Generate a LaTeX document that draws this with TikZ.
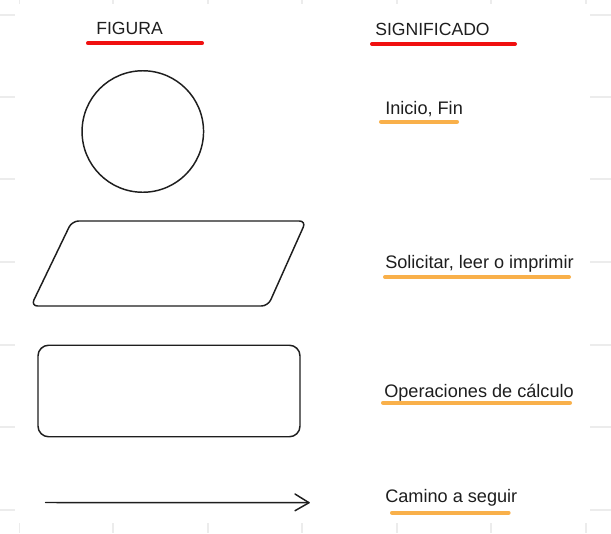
\documentclass[tikz,border=0pt]{standalone}
\usepackage{fontspec}
\setmainfont{Liberation Sans}
\definecolor{ink}{HTML}{1E1E1E}
\definecolor{gridc}{HTML}{ECECEC}
\definecolor{redline}{HTML}{F01010}
\definecolor{orangeline}{HTML}{F9B04A}
\tikzset{
  shapeline/.style={draw=ink, line width=1.1pt},
  tick/.style={draw=gridc, line width=0.9pt},
  head/.style={anchor=base west, inner sep=0pt, text=ink, font=\fontsize{13.2pt}{15pt}\selectfont},
  label/.style={anchor=base west, inner sep=0pt, text=ink, font=\fontsize{13.6pt}{16pt}\selectfont},
  redul/.style={draw=redline, line width=3pt, line cap=round},
  orangeul/.style={draw=orangeline, line width=3pt, line cap=round},
}
\begin{document}
\begin{tikzpicture}[x=0.75pt,y=-0.75pt]
\useasboundingbox[fill=white] (0,0) rectangle (611,533);
% faint background grid ticks
\foreach \gx in {19.5,113,208,302,397,491,586}{
  \path[tick] (\gx,0) -- (\gx,4);
  \path[tick] (\gx,523) -- (\gx,533);
}
\foreach \gy in {15,97,179,262,345,427,510}{
  \path[tick] (0,\gy) -- (15,\gy);
  \path[tick] (590,\gy) -- (611,\gy);
}
% headers
\node[head] (hfig) at (96,34.3) {FIGURA};
\node[head] (hsig) at (375,35) {SIGNIFICADO};
\coordinate (hfigA) at (88,43.3); \coordinate (hfigB) at (202,43.3);
\coordinate (hsigA) at (372,44); \coordinate (hsigB) at (515,44);
\draw[redul] (hfigA) -- (hfigB);
\draw[redul] (hsigA) -- (hsigB);
% shapes
\node[shapeline, circle, minimum size=121.5*0.75pt, inner sep=0pt] (circ) at (142.8,131.5) {};
\draw[shapeline, rounded corners=5pt] (72,221) -- (306,221) -- (268,306) -- (31,306) -- cycle;
\node[shapeline, rectangle, rounded corners=8pt, minimum width=262*0.75pt, minimum height=91.5*0.75pt, inner sep=0pt] (rect) at (169,391) {};
\coordinate (arrA) at (45.6,502.5);
\coordinate (arrB) at (309,502.7);
\draw[shapeline, line cap=round] (arrA) -- (arrB);
\draw[shapeline, line cap=round, line join=round] (295,494) -- (arrB) -- (295,510.7);
% labels
\node[label] (l1) at (385,114) {Inicio, Fin};
\node[label] (l2) at (385,268) {Solicitar, leer o imprimir};
\node[label] (l3) at (384,397) {Operaciones de cálculo};
\node[label] (l4) at (385,502) {Camino a seguir};
\draw[orangeul] (381,121.7) -- (457,121.7);
\draw[orangeul] (385,277) -- (569,277);
\draw[orangeul] (383,402.7) -- (570,402.7);
\draw[orangeul] (392,512.7) -- (508.6,512.7);
\end{tikzpicture}
\end{document}
